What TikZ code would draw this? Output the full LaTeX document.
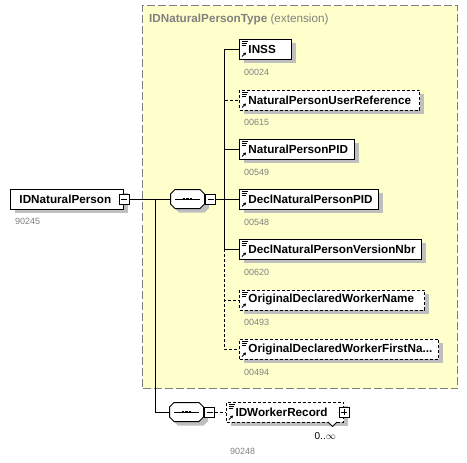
\documentclass[tikz,border=0pt]{standalone}
\usepackage{fontspec}
\setmainfont{Liberation Sans}
\usetikzlibrary{positioning}
\usetikzlibrary{shadows}
\usetikzlibrary{arrows.meta}
\definecolor{typefill}{RGB}{255,255,204}
\definecolor{typeline}{RGB}{128,128,128}
\definecolor{idgray}{RGB}{128,128,128}
\tikzset{
    basebox/.style = {rectangle, draw=black, line width=1, fill=white, anchor=west, minimum height=20, inner sep=0,
      text width=#1, align=left, font=\bfseries\fontsize{11.7}{14}\selectfont, execute at begin node={\hspace*{9pt}},
      general shadow={fill=black!25, shadow xshift=4pt, shadow yshift=-4pt}},
    elembox/.style = {basebox=#1, path picture={
      \draw[solid, line width=0.8] ([shift={(2,2.5)}]path picture bounding box.north west) -- ++(6,0)
        ([shift={(2,4.5)}]path picture bounding box.north west) -- ++(5,0)
        ([shift={(2,6.5)}]path picture bounding box.north west) -- ++(4,0);
      \draw[solid, line width=1, -{Triangle[length=2.5pt,width=3pt]}] ([shift={(2.5,-2.5)}]path picture bounding box.south west) -- ++(4,-4);}},
    elemboxd/.style = {elembox=#1, dash pattern=on 3pt off 2pt}, % optional
    seqnode/.style = {rectangle, minimum width=35, minimum height=19, inner sep=0},
    minusbox/.style = {rectangle, draw=black, line width=0.8, fill=white, minimum size=10, inner sep=0, path picture={
      \draw[solid] ([xshift=2pt]path picture bounding box.west) -- ([xshift=-2pt]path picture bounding box.east);}},
    plusbox/.style = {rectangle, draw=black, line width=0.8, fill=white, minimum size=10, inner sep=0, path picture={
      \draw[solid] ([xshift=2pt]path picture bounding box.west) -- ([xshift=-2pt]path picture bounding box.east)
        ([yshift=2pt]path picture bounding box.south) -- ([yshift=-2pt]path picture bounding box.north);}},
    typebox/.style = {rectangle, draw=typeline, fill=typefill, line width=1, dash pattern=on 8pt off 3pt, anchor=north west},
    idlabel/.style = {anchor=west, text=idgray, inner sep=0, font=\fontsize{9}{10}\selectfont},
    edgen/.style = {line width=1},
    edged/.style = {line width=1, dash pattern=on 3pt off 2pt}
}
% sequence compositor drawn round a seqnode
\newcommand{\seqsym}[1]{%
  \begin{scope}[shift={(#1.center)}]
    \fill[black!25] (-13,-1) -- (-8.5,-5.5) -- (17,-5.5) -- (21.5,-1) -- (21.5,9) -- (17,13.5) -- (-8.5,13.5) -- (-13,9) -- cycle;
    \filldraw[fill=white, line width=1] (-17,-5) -- (-12.5,-9.5) -- (12.5,-9.5) -- (17,-5) -- (17,5) -- (12.5,9.5) -- (-12.5,9.5) -- (-17,5) -- cycle;
    \draw[line width=1] (-12.5,0) -- (12.5,0);
    \foreach \d in {-3.6,0,3.6} \fill (\d-1.3,-1.3) rectangle (\d+1.3,1.3);
  \end{scope}}

\begin{document}
\begin{tikzpicture}[x=1pt, y=-1pt]
\useasboundingbox (0,0) rectangle (467,463);

\node[typebox, minimum width=315, minimum height=383] (ext) at (142,5) {};
\node[anchor=west, text=idgray, inner sep=0, font=\fontsize{11.7}{14}\selectfont] (exttitle) at (149,19) {\textbf{IDNaturalPersonType} (extension)};

\node[basebox=113] (np) at (10,199) {IDNaturalPerson};
\node[minusbox] (npm) at (np.east) {};
\node[idlabel] (id90245) at (15,221) {90245};

\node[seqnode] (seq1) at (187.5,199) {};
\seqsym{seq1}
\node[minusbox, right=0pt of seq1] (seq1m) {};

\node[elembox=52]   (inss)    at (239,49)  {INSS};
\node[elemboxd=180] (npuref)  at (239,100) {NaturalPersonUserReference};
\node[elembox=115]  (nppid)   at (239,149) {NaturalPersonPID};
\node[elembox=139]  (dnppid)  at (239,199) {DeclNaturalPersonPID};
\node[elembox=182]  (dnpver)  at (239,249) {DeclNaturalPersonVersionNbr};
\node[elemboxd=185] (odwname) at (239,300) {OriginalDeclaredWorkerName};
\node[elemboxd=199] (odwfirst) at (239,349) {OriginalDeclaredWorkerFirstNa...};

\node[idlabel] (id00024) at (244,72)  {00024};
\node[idlabel] (id00615) at (244,122) {00615};
\node[idlabel] (id00549) at (244,172) {00549};
\node[idlabel] (id00548) at (244,222) {00548};
\node[idlabel] (id00620) at (244,272) {00620};
\node[idlabel] (id00493) at (244,322) {00493};
\node[idlabel] (id00494) at (244,372) {00494};

\node[seqnode] (seq2) at (186.5,412) {};
\seqsym{seq2}
\node[minusbox, right=0pt of seq2] (seq2m) {};
\node[elemboxd=117] (wrk) at (226,412) {IDWorkerRecord};
\filldraw[fill=white, line width=0.8] (328,422) -- (332.5,426.5) -- (337,422);
\node[plusbox] (wrkp) at (wrk.east) {};
\node[anchor=east, inner sep=0, font=\fontsize{10}{12}\selectfont] (wrkocc) at (336,436) {0..$\infty$};
\node[idlabel] (id90248) at (230,451) {90248};

\coordinate (fork) at (155,199);
\coordinate (choice) at (224,199);

\draw[edgen] (npm.east) -- (seq1.west);
\draw[edgen] (fork) |- (seq2.west);
\draw[edged] (seq2m.east) -- (wrk.west);

\draw[edged] (choice) |- (npuref.west);
\draw[edged] (choice) |- (odwname.west);
\draw[edged] (choice) |- (odwfirst.west);
\draw[edgen] (seq1m.east) -- (dnppid.west);
\draw[edgen] (choice) |- (inss.west);
\draw[edgen] (choice) |- (nppid.west);
\draw[edgen] (choice) |- (dnpver.west);

\end{tikzpicture}
\end{document}
